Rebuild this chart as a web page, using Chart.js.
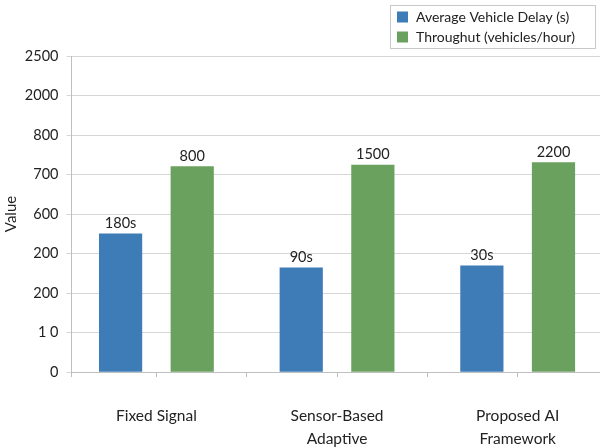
<!DOCTYPE html>
<html><head><meta charset="utf-8">
<script src="https://cdn.jsdelivr.net/npm/chart.js@4.4.0/dist/chart.umd.min.js"></script>
<style>
html,body{margin:0;padding:0;background:#fff;overflow:hidden;width:600px;height:447px}
#wrap{position:absolute;left:0;top:0;width:608px;height:447px}
</style></head><body>
<div id="wrap"><canvas id="c" width="608" height="447"></canvas></div>
<script>
// Category names (multi-line labels)
const categories = [['Fixed Signal'], ['Sensor-Based', 'Adaptive'], ['Proposed AI', 'Framework']];
// Y tick labels as printed on the reference axis (bottom to top, one per grid step)
const yTickLabels = ['0', '1 0', '200', '200', '600', '700', '800', '2000', '2500'];
// Bar heights, in grid steps of the axis above
const delayHeights = [3.50, 2.64, 2.69];
const throughputHeights = [5.20, 5.24, 5.30];
// Labels printed above the bars
const delayLabels = ['180s', '90s', '30s'];
const throughputLabels = ['800', '1500', '2200'];
const seriesNames = ['Average Vehicle Delay (s)', 'Throughut (vehicles/hour)'];

const BLUE = '#3e7cb7';
const GREEN = '#6aa15e';
const FONT = 'Lato';
const TXT = '#222';

const valueLabelSets = [delayLabels, throughputLabels];

const valueLabels = {
  id: 'valueLabels',
  afterDatasetsDraw(chart) {
    const ctx = chart.ctx;
    ctx.save();
    ctx.font = '14.5px ' + FONT;
    ctx.fillStyle = TXT;
    ctx.textAlign = 'center';
    ctx.textBaseline = 'bottom';
    chart.data.datasets.forEach((ds, i) => {
      chart.getDatasetMeta(i).data.forEach((bar, j) => {
        ctx.fillText(valueLabelSets[i][j], bar.x, bar.y - 3);
      });
    });
    ctx.restore();
  }
};

const legendBox = {
  id: 'legendBox',
  afterDraw(chart) {
    const ctx = chart.ctx;
    ctx.save();
    ctx.strokeStyle = '#c9c9c9';
    ctx.lineWidth = 1;
    ctx.strokeRect(390.5, 5.5, 205, 43);
    ctx.font = '14px ' + FONT;
    ctx.textAlign = 'left';
    ctx.textBaseline = 'middle';
    chart.data.datasets.forEach((ds, i) => {
      const y = 17 + i * 20;
      ctx.fillStyle = ds.backgroundColor;
      ctx.fillRect(397, y - 5.5, 11, 11);
      ctx.fillStyle = TXT;
      ctx.fillText(ds.label, 416, y);
    });
    ctx.restore();
  }
};

const toPoints = arr => arr.map((v, i) => ({ x: i, y: v }));

new Chart(document.getElementById('c'), {
  type: 'bar',
  data: {
    datasets: [
      { label: seriesNames[0], data: toPoints(delayHeights), backgroundColor: BLUE },
      { label: seriesNames[1], data: toPoints(throughputHeights), backgroundColor: GREEN }
    ]
  },
  options: {
    responsive: false,
    animation: false,
    devicePixelRatio: 1,
    barThickness: 'flex',
    categoryPercentage: 0.793,
    barPercentage: 0.594,
    layout: { padding: { top: 56, left: 0, right: 0, bottom: 0 } },
    plugins: { legend: { display: false }, tooltip: { enabled: false } },
    scales: {
      x: {
        type: 'linear',
        offset: false,
        min: -0.47,
        max: 2.5,
        afterFit(s) { s.height = 75; s.paddingLeft = 0; s.paddingRight = 0; },
        grid: { offset: false, drawOnChartArea: false, drawTicks: true, tickLength: 5, color: '#bfbfbf' },
        border: { color: '#bfbfbf' },
        ticks: {
          stepSize: 0.5,
          autoSkip: false,
          maxRotation: 0,
          padding: 28,
          color: TXT,
          font: { family: FONT, size: 15.5, lineHeight: 1.48 },
          callback: v => Number.isInteger(v) && categories[v] ? categories[v] : ''
        }
      },
      y: {
        min: 0,
        max: 8,
        afterFit(s) { s.width = 71.5; },
        grid: { color: '#d6d6d6', tickLength: 5 },
        border: { color: '#bfbfbf' },
        ticks: {
          stepSize: 1,
          padding: 8,
          color: TXT,
          font: { family: FONT, size: 14.5 },
          callback: v => yTickLabels[v] !== undefined ? yTickLabels[v] : ''
        },
        title: {
          display: true,
          text: 'Value',
          color: TXT,
          font: { family: FONT, size: 15 },
          padding: { top: 2, bottom: 0 }
        }
      }
    }
  },
  plugins: [valueLabels, legendBox]
});
</script>
</body></html>
